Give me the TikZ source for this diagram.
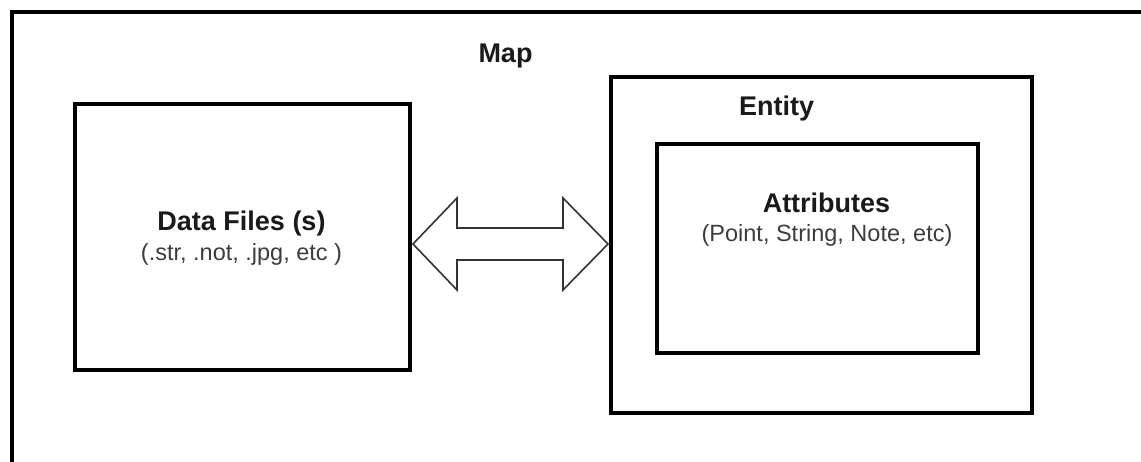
\documentclass[tikz,border=0pt]{standalone}
\usepackage{fontspec}
\setmainfont{Liberation Sans}
\definecolor{boldtext}{HTML}{1A1A1A}
\definecolor{lighttext}{HTML}{3C3C3C}
\definecolor{arrowline}{HTML}{333333}
\tikzset{
  box/.style={draw=black, line width=4pt, rectangle, inner sep=0pt, fill=none},
  titletext/.style={anchor=base, inner sep=0pt, text=boldtext, font=\fontsize{27}{30}\selectfont\bfseries},
  subtext/.style={anchor=base, inner sep=0pt, text=lighttext, font=\fontsize{23.5}{26}\selectfont},
  twoway/.style={draw=arrowline, line width=1.6pt, line join=miter, fill=white}
}
\begin{document}
\begin{tikzpicture}[x=1pt,y=-1pt]
\useasboundingbox (0,0) rectangle (1141,461);
\clip (0,0) rectangle (1141,461);
% outer map frame (cut off at right and bottom)
\node[box, minimum width=1160pt, minimum height=480pt, anchor=north west] (mapframe) at (10,10) {};
\node[titletext] (map) at (505.5,62) {Map};
% data files box
\node[box, minimum width=335pt, minimum height=266pt] (data) at (242.5,237) {};
\node[titletext] (datatitle) at (241.5,230) {Data Files (s)};
\node[subtext] (datasub) at (241.5,260) {(.str, .not, .jpg, etc )};
% entity box
\node[box, minimum width=421pt, minimum height=336pt] (entity) at (821.5,245) {};
\node[titletext] (entitytitle) at (776.5,115) {Entity};
% attributes box
\node[box, minimum width=321pt, minimum height=209pt] (attr) at (817.5,248.5) {};
\node[titletext] (attrtitle) at (826.5,212) {Attributes};
\node[subtext] (attrsub) at (827,241) {(Point, String, Note, etc)};
% double arrow between data box and entity box
\coordinate (ltip) at (data.east |- 0,244);
\coordinate (rtip) at (entity.west |- 0,244);
\draw[twoway] ([xshift=1pt]ltip) -- (457,198) -- (457,228) -- (563,228) -- (563,198)
  -- ([xshift=-1pt]rtip) -- (563,290) -- (563,260) -- (457,260) -- (457,290) -- cycle;
\end{tikzpicture}
\end{document}
